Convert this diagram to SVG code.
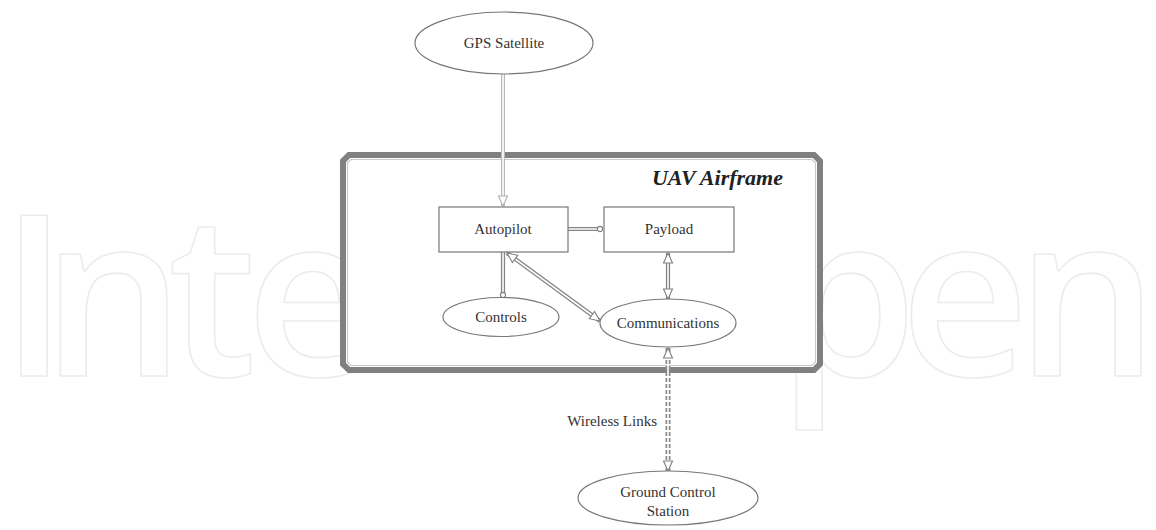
<svg xmlns="http://www.w3.org/2000/svg" width="1156" height="530" viewBox="0 0 1156 530">
<style>
.wm{font-family:"Open Sans",sans-serif;font-weight:600;font-size:224px;fill:none;stroke:#ececec;stroke-width:1.6}
.lbl{font-family:"Liberation Serif",serif;font-size:15px;fill:#333;text-anchor:middle}
.shape{fill:#fff;stroke:#777;stroke-width:1.2}
.outer{fill:none;stroke:#858585;stroke-width:4.2}
.outer-l{fill:none;stroke:#b8b8b8;stroke-width:4}
.inner{fill:none;stroke:#fff;stroke-width:1.6}
.dash{fill:none;stroke:#8a8a8a;stroke-width:5;stroke-dasharray:4 2}
</style>
<defs>
<marker id="ah" viewBox="0 0 12 11" markerUnits="userSpaceOnUse" markerWidth="12" markerHeight="11" refX="11" refY="5.5" orient="auto-start-reverse">
<path d="M1,1 L11,5.5 L1,10 Z" fill="#fff" stroke="#808080" stroke-width="1.1"/>
</marker>
<marker id="ahl" viewBox="0 0 12 11" markerUnits="userSpaceOnUse" markerWidth="12" markerHeight="11" refX="11" refY="5.5" orient="auto-start-reverse">
<path d="M1,1 L11,5.5 L1,10 Z" fill="#fff" stroke="#b0b0b0" stroke-width="1.1"/>
</marker>
<marker id="dot" viewBox="0 0 8 8" markerUnits="userSpaceOnUse" markerWidth="8" markerHeight="8" refX="6" refY="4" orient="auto">
<circle cx="4" cy="4" r="2.6" fill="#fff" stroke="#808080" stroke-width="1.1"/>
</marker>
</defs>
<rect width="1156" height="530" fill="#fff"/>
<g id="watermark">
<text class="wm" x="0 42 168 246" y="376">Inte</text>
<text class="wm" x="778 900 1016" y="376">pen</text>
</g>
<g id="frame">
<path d="M349,155 L814,155 L820,161 L820,364 L814,370 L349,370 L343,364 L343,161 Z" fill="#fff" stroke="#808080" stroke-width="6"/>
<path d="M351,159.5 L812,159.5 L815.5,163 L815.5,362 L812,365.5 L351,365.5 L347.5,362 L347.5,163 Z" fill="none" stroke="#c8c8c8" stroke-width="1.2"/>
<text x="783" y="185" font-family="Liberation Serif,serif" font-size="22" font-weight="bold" font-style="italic" fill="#222" text-anchor="end">UAV Airframe</text>
</g>
<g id="connectors">
<path class="outer-l" d="M503,74 L503,206"/>
<path class="inner" d="M503,74 L503,206" marker-end="url(#ahl)"/>
<path class="outer" d="M568,229 L602,229"/>
<path class="inner" d="M568,229 L602,229" marker-end="url(#dot)"/>
<path class="outer" d="M503,252 L503,297"/>
<path class="inner" d="M503,252 L503,297" marker-end="url(#dot)"/>
<path class="outer" d="M507,253 L600,321"/>
<path class="inner" d="M507,253 L600,321" marker-start="url(#ah)" marker-end="url(#ah)"/>
<path class="outer" d="M668,253 L668,299"/>
<path class="inner" d="M668,253 L668,299" marker-start="url(#ah)" marker-end="url(#ah)"/>
<path class="dash" d="M668,348 L668,471"/>
<path class="inner" d="M668,348 L668,471" marker-start="url(#ah)" marker-end="url(#ah)"/>
</g>
<g id="gps">
<ellipse class="shape" cx="504" cy="43" rx="89" ry="31"/>
<text class="lbl" x="504" y="48">GPS Satellite</text>
</g>
<g id="autopilot">
<rect class="shape" x="439" y="207" width="129" height="45"/>
<text class="lbl" x="503" y="234">Autopilot</text>
</g>
<g id="payload">
<rect class="shape" x="604" y="207" width="130" height="45"/>
<text class="lbl" x="669" y="234">Payload</text>
</g>
<g id="controls">
<ellipse class="shape" cx="501" cy="317" rx="58" ry="19.5"/>
<text class="lbl" x="501" y="322">Controls</text>
</g>
<g id="communications">
<ellipse class="shape" cx="668" cy="323" rx="68" ry="24"/>
<text class="lbl" x="668" y="328">Communications</text>
</g>
<g id="ground">
<ellipse class="shape" cx="668" cy="498" rx="90" ry="27"/>
<text class="lbl" x="668" y="497">Ground Control</text>
<text class="lbl" x="668" y="516">Station</text>
</g>
<g id="wireless-label">
<text x="657" y="426" font-family="Liberation Serif,serif" font-size="15" fill="#333" text-anchor="end">Wireless Links</text>
</g>
</svg>
